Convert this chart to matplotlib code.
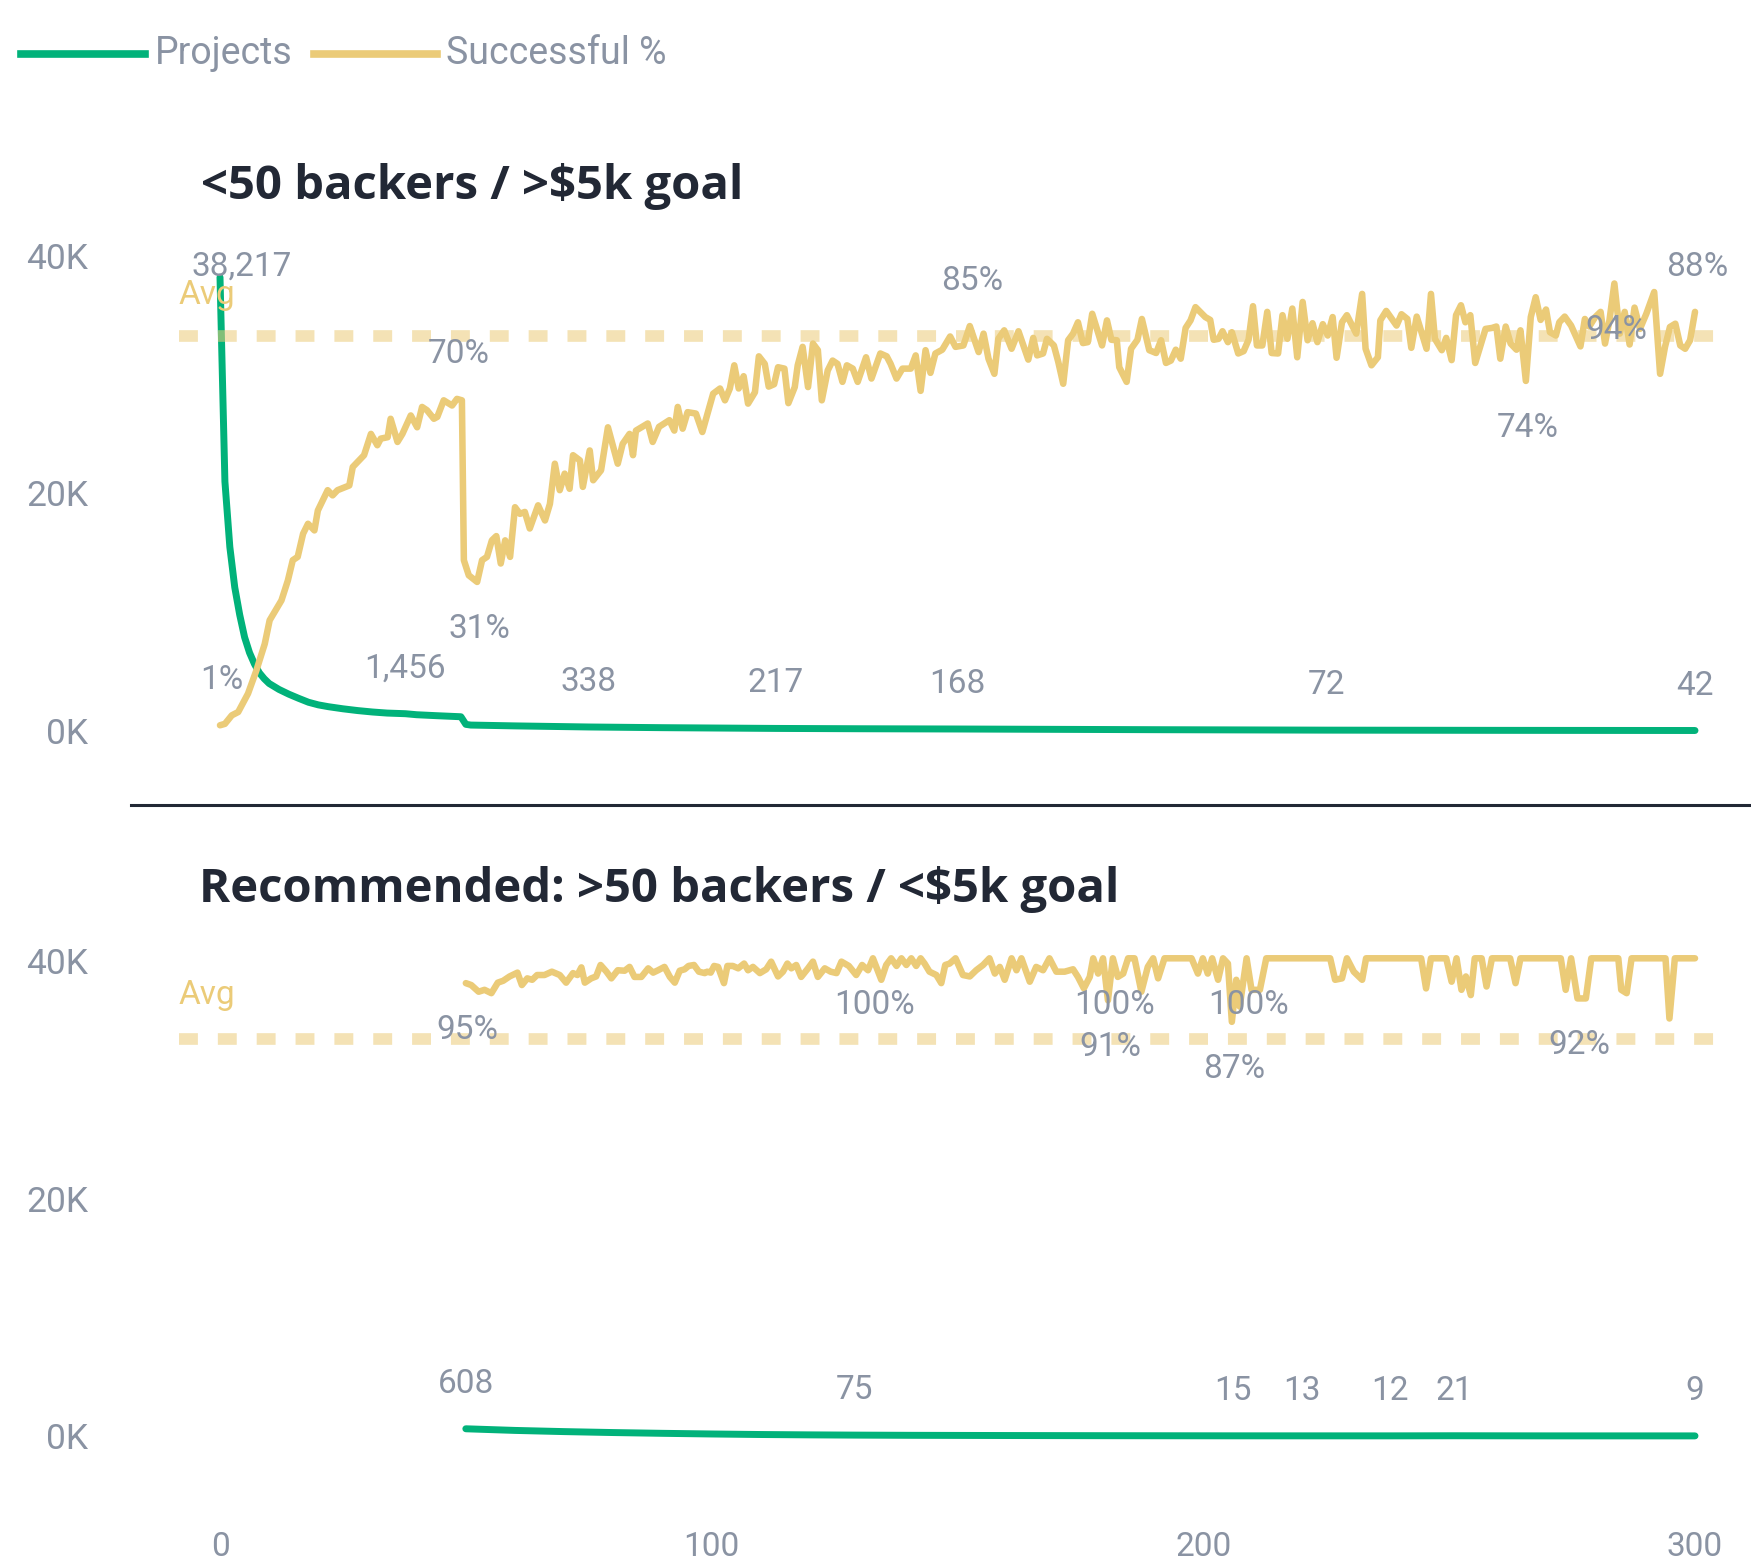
import matplotlib
matplotlib.use("Agg")
import matplotlib.pyplot as plt
from matplotlib.lines import Line2D

# ---------------- data ----------------
top_proj_x = [0, 1, 2, 3, 4, 5, 6, 7, 8, 9, 10, 12, 14, 16, 18, 20, 22, 25, 28, 31, 34, 37.7,
              40, 44, 49, 50, 51, 60, 75, 90, 113, 130, 150, 190, 225, 260, 300]
top_proj_y = [38217, 21000, 15500, 12100, 9800, 7900, 6600, 5650, 4900, 4400, 4000, 3500, 3100,
              2750, 2420, 2200, 2050, 1870, 1720, 1600, 1510, 1456, 1370, 1290, 1200, 560, 500,
              430, 338, 280, 217, 190, 168, 110, 72, 55, 42]

top_pct_x = [0, 1.0, 2.4, 3.7, 5.7, 7.4, 9.1, 10.1, 12.5, 13.8, 14.8, 15.8, 16.9, 17.9, 19.2, 19.9,
             21.9, 22.9, 23.9, 26.3, 27.0, 28.0, 29.3, 30.7, 32.0, 32.7, 34.1, 34.7, 36.1, 37.1,
             38.8, 40.1, 41.1, 42.1, 43.5, 44.2, 45.5, 47.2, 48.2, 49.2, 49.6, 50.6, 52.3, 53.3,
             54.3, 55.3, 56.2, 57.1, 58.0, 59.0, 60.0, 61.0, 62.0, 63.0, 64.7, 66.1, 67.1, 68.1,
             69.1, 70.1, 71.1, 71.8, 73.2, 73.8, 75.2, 75.9, 77.5, 78.9, 80.9, 81.9, 83.3, 84.0,
             84.6, 87.0, 88.0, 89.3, 91.4, 92.4, 93.1, 94.1, 95.1, 96.8, 98.1,
             100.3, 101.7, 102.7, 103.7, 104.6, 105.5, 106.5, 107.4, 108.8, 109.6, 110.8, 111.6,
             112.7, 113.5, 114.8, 115.6, 116.9, 117.5, 118.5, 119.6, 120.6, 121.6, 122.4, 123.6,
             124.6, 125.6, 126.6, 127.5, 128.7, 129.7, 131.4, 132.5, 134.3, 135.6, 136.4, 137.6,
             138.8, 140.5, 141.5, 142.5, 143.5, 144.5, 145.5, 146.9, 148.5, 149.6, 151.2, 152.5,
             154.3, 155.3, 156.3, 157.5, 158.3, 159.5, 161.0, 162.4, 164.4, 165.4, 166.2, 167.4,
             168.2, 169.6, 170.5, 171.5, 172.5, 173.5, 174.5, 175.5, 176.5, 177.4, 179.4, 180.4,
             181.3, 182.4, 182.9, 184.4, 185.3, 186.6, 187.5, 189.0, 190.4, 191.4, 192.4, 193.4,
             194.4, 195.4, 196.4, 197.4, 198.4,
             200.4, 201.4, 202.1, 203.1, 203.9, 205.0, 205.8, 207.1, 208.2, 209.2, 210.1, 210.9,
             212.0, 213.0, 213.9, 215.2, 216.1, 217.1, 218.1, 219.1, 220.2, 221.2, 222.2, 223.2,
             224.3, 225.3, 226.3, 227.1, 228.2, 229.2, 231.1, 232.3, 233.0, 234.2, 235.5, 236.0,
             237.2, 239.3, 240.3, 241.5, 242.3, 243.4, 245.4, 246.3, 247.1, 248.5, 249.4, 250.5,
             251.4, 252.4, 253.3, 254.3, 255.3, 257.4, 258.7, 259.6, 260.4, 261.5, 262.5, 263.7,
             264.5, 265.6, 266.6, 267.6, 268.6, 269.7, 270.5, 271.7, 272.4, 273.5, 274.8, 276.7,
             277.6, 278.5, 279.7, 280.8, 281.7, 282.6, 283.6, 284.7, 285.7, 286.7, 287.7, 288.8,
             290.1, 291.7, 292.9, 293.9, 294.9, 296.0, 297.0, 298.0, 299.0, 300.0]
top_pct_y = [1.0, 1.3, 3.1, 3.8, 7.7, 12.6, 18.2, 23.2, 27.4, 31.6, 35.9, 36.6, 41.5, 43.6, 42.2, 46.4,
             50.7, 49.6, 50.7, 51.7, 55.6, 56.7, 58.1, 62.6, 60.2, 61.6, 61.9, 65.8, 60.9, 62.6,
             66.5, 64.0, 68.3, 67.6, 65.8, 66.2, 69.7, 68.6, 70.0, 69.7, 35.9, 32.7, 31.3, 35.9,
             36.6, 40.1, 41.0, 35.2, 40.1, 36.6, 47.1, 45.7, 46.1, 42.6, 47.5, 44.3, 47.8, 56.3,
             50.7, 54.2, 51.0, 58.1, 57.0, 51.4, 59.1, 52.8, 54.9, 64.0, 56.3, 60.5, 62.6, 58.1,
             63.3, 64.8, 60.9, 64.1, 65.5, 63.3, 68.3, 63.7, 67.2, 66.9, 63.0,
             71.1, 72.2, 69.7, 72.2, 77.1, 72.2, 74.8, 69.0, 71.4, 79.0, 77.4, 72.6,
             73.1, 76.7, 76.4, 69.1, 72.5, 77.1, 81.0, 72.5, 81.7, 80.3, 69.7, 76.0,
             78.1, 77.4, 73.6, 77.1, 76.4, 73.6, 78.8, 74.3, 79.6, 79.0, 77.4, 74.3,
             76.4, 76.4, 79.2, 71.7, 80.3, 75.5, 79.6, 80.4, 83.2, 81.0, 81.3, 85.4,
             79.9, 83.8, 78.5, 75.3, 82.7, 84.5, 80.6, 84.3, 78.3, 82.9, 79.2, 79.6,
             82.7, 81.3, 77.8, 73.2, 82.4, 83.8, 86.2, 81.8, 82.0, 88.0, 81.3, 86.6,
             82.5, 82.4, 76.7, 73.6, 80.6, 82.5, 86.9, 80.3, 79.7, 82.4, 77.6, 78.1,
             80.4, 78.5, 85.0, 86.6, 89.4,
             87.3, 86.7, 82.5, 82.7, 84.3, 82.0, 84.1, 79.6, 80.1, 82.5, 89.6, 81.3,
             81.3, 88.4, 79.7, 79.6, 87.7, 82.7, 89.1, 78.8, 90.5, 82.4, 86.0, 82.0,
             85.8, 83.4, 87.3, 78.7, 86.2, 87.7, 83.8, 92.2, 80.6, 77.1, 78.8, 86.6,
             88.6, 85.5, 87.9, 86.9, 80.8, 87.4, 80.6, 92.2, 82.7, 80.3, 82.9, 78.2,
             87.7, 89.8, 86.2, 87.7, 77.6, 84.8, 85.0, 85.3, 78.5, 85.3, 81.7, 80.4,
             84.5, 73.8, 87.3, 91.5, 86.7, 88.9, 84.1, 83.4, 86.2, 87.4, 85.5, 81.1,
             86.9, 85.3, 87.3, 88.4, 81.7, 86.6, 94.4, 83.8, 88.4, 81.5, 89.3, 84.8,
             88.0, 92.6, 75.3, 81.0, 85.2, 85.9, 81.3, 80.6, 82.4, 88.4]

bot_proj_x = [50, 60, 70, 80, 90, 100, 110, 120, 129, 140, 160, 180, 206, 220, 238, 251, 270, 300]
bot_proj_y = [608, 470, 370, 290, 225, 170, 125, 95, 75, 58, 40, 26, 15, 13, 12, 21, 11, 9]

bot_pct_x = [50.0, 51.1, 52.6, 53.8, 55.2, 56.5, 57.6, 58.9, 60.5, 61.4, 62.5, 63.5, 64.5, 66.0, 67.5,
             69.1, 70.4, 71.8, 72.7, 73.5, 74.2, 75.5, 76.5, 77.4, 78.6, 79.6, 80.9, 82.3, 83.3,
             84.3, 85.7, 87.1, 88.1, 89.1, 90.4, 91.5, 92.5, 93.5, 94.5, 95.3, 96.4, 97.4, 98.6,
             99.1, 99.8, 100.5, 101.3, 102.5, 103.2, 104.3, 105.4, 106.6, 107.4, 108.4, 109.8,
             111.1, 112.1, 113.5, 114.5, 115.4, 116.2, 117.2, 118.2, 119.6, 120.6, 121.6, 123.0,
             124.2, 125.4, 126.4, 127.9, 129.4, 130.6, 131.8, 132.8, 134.5, 135.5, 136.5, 137.6,
             138.6, 139.6, 140.6, 141.6, 142.5, 143.3, 144.3, 145.7, 146.7, 147.5, 148.4, 149.6,
             151.1, 152.5, 153.8, 155.2, 156.5, 157.6, 158.6, 159.6, 161.0, 162.0, 163.0, 164.7,
             166.0, 167.4, 168.7, 170.1, 171.8, 173.5, 174.5, 175.7, 176.9, 177.6, 178.6, 179.6,
             180.6, 181.6, 182.6, 183.7, 184.7, 186.0, 187.4, 188.7, 189.8, 190.8, 192.1, 197.6,
             198.9, 199.9, 200.9, 201.8, 203.0, 204.0, 205.0, 205.8, 206.7, 207.4, 208.8, 209.8,
             211.5, 212.8, 225.8, 226.8, 228.2, 229.2, 230.6, 232.3, 233.1, 244.3, 245.3, 246.3,
             249.4, 250.5, 251.5, 252.5, 253.4, 254.4, 255.2, 256.6, 257.6, 258.7, 262.4, 263.5,
             264.5, 272.7, 273.7, 274.8, 276.1, 277.8, 278.9, 284.4, 285.0, 286.1, 287.1, 294.0,
             294.8, 295.9, 300.0]
bot_pct_y = [94.8, 94.4, 93.0, 93.4, 92.7, 94.9, 95.3, 96.2, 97.0, 94.4, 95.8, 95.5, 96.5, 96.5, 97.2,
             96.5, 94.9, 96.9, 96.5, 98.1, 94.9, 95.8, 96.2, 98.6, 97.2, 95.8, 97.5, 97.4, 98.2,
             96.1, 96.1, 97.9, 97.0, 97.5, 98.2, 96.1, 94.9, 97.4, 97.7, 98.4, 98.6, 97.2, 96.9,
             97.2, 97.0, 98.4, 98.2, 94.8, 98.4, 98.4, 97.9, 98.9, 97.5, 98.2, 96.9,
             97.7, 99.3, 96.2, 97.2, 98.9, 97.9, 98.6, 96.1, 97.9, 99.3, 96.1, 97.9,
             97.2, 96.9, 99.3, 98.4, 96.5, 98.6, 97.5, 100.0, 95.5, 98.6, 100.0, 98.4,
             100.0, 98.6, 100.0, 98.4, 100.0, 98.9, 97.2, 96.5, 94.8, 98.6, 98.9, 100.0,
             96.5, 96.2, 97.5, 98.6, 100.0, 96.8, 98.2, 95.5, 100.0, 97.5, 100.0, 95.1,
             98.2, 97.5, 100.0, 97.2, 97.2, 97.7, 96.1, 93.7, 96.1, 100.0, 96.8, 100.0,
             91.2, 100.0, 96.1, 96.8, 100.0, 100.0, 93.0, 98.2, 100.0, 95.8, 100.0, 100.0,
             96.8, 100.0, 96.8, 100.0, 95.5, 100.0, 98.9, 86.7, 95.5, 89.9, 100.0, 93.4,
             93.4, 100.0, 100.0, 95.5, 95.8, 100.0, 97.2, 95.5, 100.0, 100.0, 93.7, 100.0,
             100.0, 95.1, 100.0, 93.4, 96.2, 92.3, 100.0, 100.0, 94.1, 100.0, 100.0, 94.8,
             100.0, 100.0, 93.4, 100.0, 91.6, 91.6, 100.0, 100.0, 93.4, 92.7, 100.0, 100.0,
             87.4, 100.0, 100.0]

avg_pct = 83.2
x_ticks = [0, 100, 200, 300]
y_ticks = [0, 20000, 40000]
y_ticklabels = ["0K", "20K", "40K"]

# data labels: (x of point, position)
top_proj_labels = [37.7, 75, 113, 150, 225, 300]
top_pct_labels = [(0, "up"), (48.2, "up"), (52.3, "down"), (152.5, "up"),
                  (265.6, "down"), (283.6, "down"), (300.0, "up")]
bot_proj_labels = [50, 129, 206, 220, 238, 251, 300]
bot_pct_labels = [(50.0, "down"), (132.8, "down"), (181.6, "down"), (180.6, "down"),
                  (205.8, "down"), (208.8, "down"), (276.1, "down")]

# ---------------- style ----------------
W, H = 1751, 1565
GREEN = "#01B27A"
YELLOW = "#EBCB78"
GRAY = "#8A93A3"
DARK = "#222835"
NUMFONT = ["Roboto", "DejaVu Sans"]
TITLEFONT = ["Open Sans", "DejaVu Sans"]

fig = plt.figure(figsize=(W / 100, H / 100), dpi=100)
fig.patch.set_facecolor("white")

KX = 1475 / 300.0
X0PX = 220
AX_L, AX_R = 179, 1720
xlim = ((AX_L - X0PX) / KX, (AX_R - X0PX) / KX)
KV = 475 / 40000.0


def rect(ytop, ybot):
    return [AX_L / W, 1 - ybot / H, (AX_R - AX_L) / W, (ybot - ytop) / H]


def lims(y0, k, ytop, ybot):
    return ((y0 - ybot) / k, (y0 - ytop) / k)


def make_panel(ytop, ybot, y0_proj, y0_pct, k_pct, show_x):
    ax = fig.add_axes(rect(ytop, ybot))
    ax.set_xlim(*xlim)
    ax.set_ylim(*lims(y0_proj, KV, ytop, ybot))
    ax2 = ax.twinx()
    ax2.set_ylim(*lims(y0_pct, k_pct, ytop, ybot))
    for a in (ax, ax2):
        for s in a.spines.values():
            s.set_visible(False)
        a.patch.set_visible(False)
    ax2.set_yticks([])
    ax.set_yticks(y_ticks)
    ax.set_yticklabels(y_ticklabels, fontfamily=NUMFONT, fontsize=25.5, color=GRAY)
    ax.tick_params(axis="y", length=0, pad=(AX_L - 88) * 0.72)
    if show_x:
        ax.set_xticks(x_ticks)
        ax.set_xticklabels([str(t) for t in x_ticks], fontfamily=NUMFONT, fontsize=24, color=GRAY)
        ax.tick_params(axis="x", length=0, pad=44)
    else:
        ax.set_xticks([])
    return ax, ax2


def add_avg(ax2, ylab_px_off):
    ax2.axhline(avg_pct, color=YELLOW, alpha=0.55, lw=8.4, dashes=(1.62, 1.71),
                solid_capstyle="butt", dash_capstyle="butt", zorder=5)
    ax2.annotate("Avg", xy=(0, avg_pct), xycoords=("axes fraction", "data"),
                 xytext=(0, ylab_px_off), textcoords="offset pixels",
                 ha="left", va="center", fontsize=24, color=YELLOW, fontfamily=NUMFONT)


def label(ax, x, y, text, dy, dx=0):
    ax.annotate(text, xy=(x, y), xytext=(dx, dy), textcoords="offset pixels",
                ha="center", va="center", fontsize=24, color=GRAY, fontfamily=NUMFONT,
                annotation_clip=False, zorder=10)


# ---- top panel ----
axT, axT2 = make_panel(215, 775, 731, 730, 4.73, False)
axT.plot(top_proj_x, top_proj_y, color=GREEN, lw=5.0, solid_joinstyle="round",
         solid_capstyle="round", zorder=3)
axT2.plot(top_pct_x, top_pct_y, color=YELLOW, lw=4.7, solid_joinstyle="round",
          solid_capstyle="round", zorder=4)
add_avg(axT2, 41)

label(axT, top_proj_x[0], top_proj_y[0], f"{top_proj_y[0]:,}", 11, 22)
for lx in top_proj_labels:
    i = top_proj_x.index(lx)
    label(axT, lx, top_proj_y[i], f"{top_proj_y[i]:,}", 45)
for lx, pos in top_pct_labels:
    i = top_pct_x.index(lx)
    label(axT2, lx, top_pct_y[i], f"{top_pct_y[i]:.0f}%", 45 if pos == "up" else -47, 2)

# ---- bottom panel ----
axB, axB2 = make_panel(925, 1470, 1436, 1436, 4.777, True)
axB.plot(bot_proj_x, bot_proj_y, color=GREEN, lw=5.0, solid_joinstyle="round",
         solid_capstyle="round", zorder=3)
axB2.plot(bot_pct_x, bot_pct_y, color=YELLOW, lw=4.7, solid_joinstyle="round",
          solid_capstyle="round", zorder=4)
add_avg(axB2, 44)

for lx in bot_proj_labels:
    i = bot_proj_x.index(lx)
    label(axB, lx, bot_proj_y[i], f"{bot_proj_y[i]:,}", 45)
for lx, pos in bot_pct_labels:
    i = bot_pct_x.index(lx)
    label(axB2, lx, bot_pct_y[i], f"{bot_pct_y[i]:.0f}%", 45 if pos == "up" else -47, 2)

# ---- titles ----
fig.text(201 / W, 1 - 186 / H, "<50 backers / >$5k goal", fontsize=34, fontweight="bold",
         color=DARK, fontfamily=TITLEFONT, ha="left", va="center")
fig.text(199 / W, 1 - 890 / H, "Recommended: >50 backers / <$5k goal", fontsize=34,
         fontweight="bold", color=DARK, fontfamily=TITLEFONT, ha="left", va="center")

# ---- separator ----
fig.add_artist(Line2D([131 / W, 1.0], [1 - 805 / H, 1 - 805 / H], transform=fig.transFigure,
                      color=DARK, lw=2.2))

# ---- legend ----
ly = 1 - 54 / H
fig.add_artist(Line2D([21 / W, 145 / W], [ly, ly], transform=fig.transFigure, color=GREEN, lw=5.5))
fig.text(155 / W, ly, "Projects", fontsize=27, color=GRAY, fontfamily=NUMFONT, ha="left", va="center")
fig.add_artist(Line2D([314 / W, 437 / W], [ly, ly], transform=fig.transFigure, color=YELLOW, lw=5.5))
fig.text(446 / W, ly, "Successful %", fontsize=27, color=GRAY, fontfamily=NUMFONT, ha="left", va="center")

fig.savefig("out.png", dpi=100, facecolor="white")
